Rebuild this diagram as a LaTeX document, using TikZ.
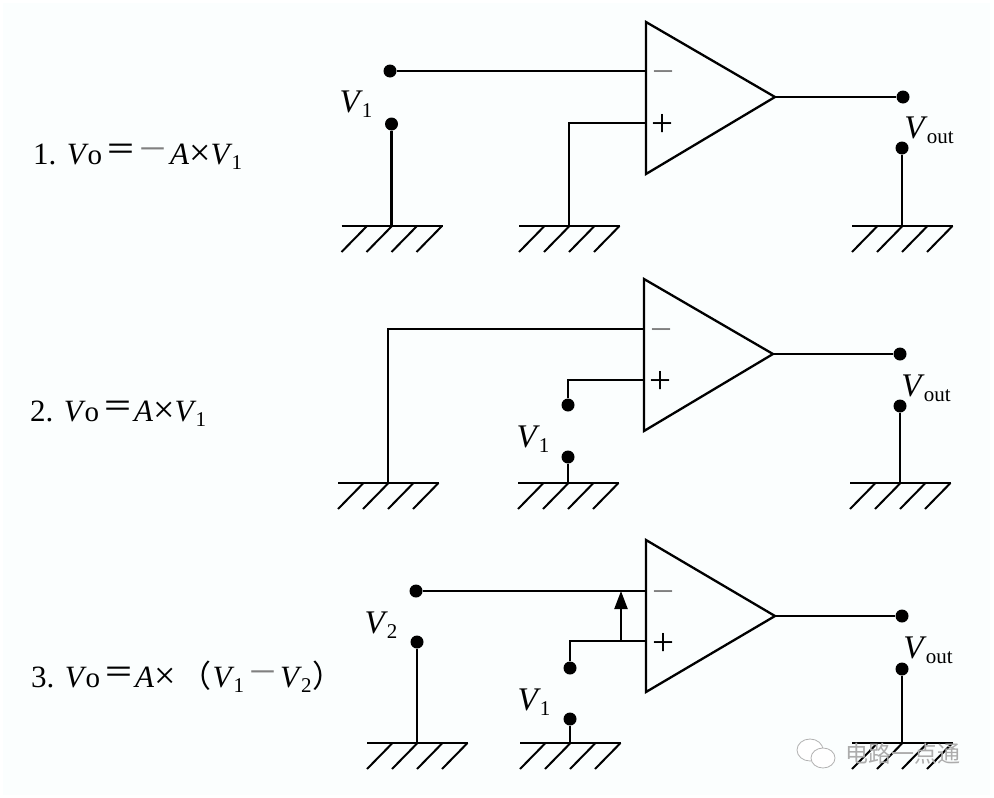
\documentclass[tikz,border=0pt]{standalone}
\usepackage{fontspec}
\setmainfont{Liberation Serif}
\newfontfamily\cjk{Noto Sans CJK SC}
\usetikzlibrary{
  arrows.meta,
  positioning
}
\definecolor{paper}{HTML}{FBFEFE}
\newcommand{\Vsub}[1]{\textit{V}\kern-1pt\raisebox{-5pt}{\fontsize{21}{21}\selectfont #1}}
\newcommand{\Vo}{\textit{V}\kern-1pt{\fontsize{29}{29}\selectfont o}}
\newcommand{\eqsign}{\kern3pt\raisebox{4pt}{\cjk ＝}\kern1pt}
\newcommand{\dash}{\raisebox{4pt}{\color{gray}\cjk －}}
\newcommand{\timessign}{{\fontsize{38}{38}\selectfont\raisebox{-1pt}{×}}}
\tikzset{
  wire/.style={line width=2.3pt, line join=miter},
  dot/.style={circle, fill=black, inner sep=0pt, minimum size=13pt},
  lbl/.style={font=\fontsize{33}{33}\selectfont, inner sep=0pt},
  eqn/.style={font=\fontsize{31}{31}\selectfont, inner sep=0pt, anchor=west},
  sign/.style={font=\fontsize{39}{39}\selectfont, inner sep=0pt},
  ground/.pic={
    \draw[wire] (-50,0) -- (51,0);
    \foreach \dx in {-50,-25,0,25} {
      \draw[line width=2pt] (\dx,26) -- ({\dx+25.5},0);
    }
  }
}

\begin{document}
\begin{tikzpicture}[x=1pt, y=-1pt]
      \useasboundingbox (0,0) rectangle (994,798);
      \fill[paper] (3,3) rectangle (990,795);

      % circuit 1
      \coordinate (a1t) at (646,22);
      \coordinate (a1b) at (646,174);
      \coordinate (a1o) at (775,97);
      \draw[wire] (a1t) -- (a1o) -- (a1b) -- cycle;
      \node[sign, gray] (a1m) at (663,78) {−};
      \node[sign] (a1p) at (662,125) {+};
      \node[dot] (in1) at (390,71) {};
      \node[dot] (gnd1) at (391.5,124) {};
      \node[dot] (out1) at (903,97) {};
      \node[dot] (ref1) at (902,148) {};
      \coordinate (g1a) at (391.5,226);
      \coordinate (g1b) at (569,226);
      \coordinate (g1c) at (902,226);
      \coordinate (plus1) at (646,123);
      \pic at (g1a) {ground};
      \pic at (g1b) {ground};
      \pic at (g1c) {ground};
      \draw[wire] (in1) -- (in1 -| a1t);
      \draw[wire] (g1b) |- (plus1);
      \draw[wire] (gnd1) -- (g1a);
      \draw[wire] (ref1) -- (g1c);
      \draw[wire] (a1o) -- (out1);
      \node[lbl] (v1a) at (356,104) {\Vsub{1}};
      \node[lbl] (vout1) at (929,130) {\Vsub{out}};
      \node[eqn] (eq1) at (33,157) {1. \Vo\eqsign\dash\kern2pt\textit{A}\timessign\Vsub{1}};

      % circuit 2
      \coordinate (a2t) at (644,279);
      \coordinate (a2b) at (644,431);
      \coordinate (a2o) at (773,354);
      \draw[wire] (a2t) -- (a2o) -- (a2b) -- cycle;
      \node[sign, gray] (a2m) at (661,336) {−};
      \node[sign] (a2p) at (660,382) {+};
      \node[dot] (in2) at (568,405) {};
      \node[dot] (gnd2) at (568,457) {};
      \node[dot] (out2) at (900,354) {};
      \node[dot] (ref2) at (900,406) {};
      \coordinate (g2a) at (388,483);
      \coordinate (g2b) at (568,483);
      \coordinate (g2c) at (900,483);
      \coordinate (minus2) at (644,329);
      \coordinate (plus2) at (644,380);
      \pic at (g2a) {ground};
      \pic at (g2b) {ground};
      \pic at (g2c) {ground};
      \draw[wire] (g2a) |- (minus2);
      \draw[wire] (in2) |- (plus2);
      \draw[wire] (gnd2) -- (g2b);
      \draw[wire] (ref2) -- (g2c);
      \draw[wire] (a2o) -- (out2);
      \node[lbl] (v1b) at (533,439) {\Vsub{1}};
      \node[lbl] (vout2) at (926,388) {\Vsub{out}};
      \node[eqn] (eq2) at (30,414) {2. \Vo\eqsign\textit{A}\timessign\Vsub{1}};

      % circuit 3
      \coordinate (a3t) at (646,540);
      \coordinate (a3b) at (646,692);
      \coordinate (a3o) at (775,616);
      \draw[wire] (a3t) -- (a3o) -- (a3b) -- cycle;
      \node[sign, gray] (a3m) at (663,598) {−};
      \node[sign] (a3p) at (663,644) {+};
      \node[dot] (in3a) at (416,591) {};
      \node[dot] (gnd3a) at (417,642) {};
      \node[dot] (in3b) at (570,668) {};
      \node[dot] (gnd3b) at (570,719) {};
      \node[dot] (out3) at (902,616) {};
      \node[dot] (ref3) at (902,669) {};
      \coordinate (g3a) at (417,743);
      \coordinate (g3b) at (570,743);
      \coordinate (g3c) at (902,743);
      \coordinate (j1) at (621,641);
      \coordinate (j2) at (621,591);
      \pic at (g3a) {ground};
      \pic at (g3b) {ground};
      \pic at (g3c) {ground};
      \draw[wire] (in3a) -- (j2 -| a3t);
      \draw[wire] (in3b) |- (j1 -| a3t);
      \draw[wire] (gnd3a) -- (g3a);
      \draw[wire] (gnd3b) -- (g3b);
      \draw[wire] (ref3) -- (g3c);
      \draw[wire] (a3o) -- (out3);
      \draw[wire, -{Triangle[length=18pt, width=13pt]}] (j1) -- (j2);
      \node[lbl] (v2c) at (381,625) {\Vsub{2}};
      \node[lbl] (v1c) at (534,702) {\Vsub{1}};
      \node[lbl] (vout3) at (928,650) {\Vsub{out}};
      \node[eqn] (eq3) at (31,677) {3. \Vo\eqsign\textit{A}\timessign\kern5pt{\cjk（}\kern1pt\Vsub{1}\kern3pt\dash\kern2pt\Vsub{2}\kern1pt{\cjk）}};

      % watermark
      \draw[gray!60, fill=white, line width=0.8pt] (810,750) ellipse (13 and 11);
      \draw[gray!60, fill=white, line width=0.8pt] (823,758) ellipse (12 and 10);
      \node[font=\cjk\fontsize{23}{23}\selectfont, text=gray!65, inner sep=0pt] (mark) at (903,754) {电路一点通};
    \end{tikzpicture}
\end{document}
